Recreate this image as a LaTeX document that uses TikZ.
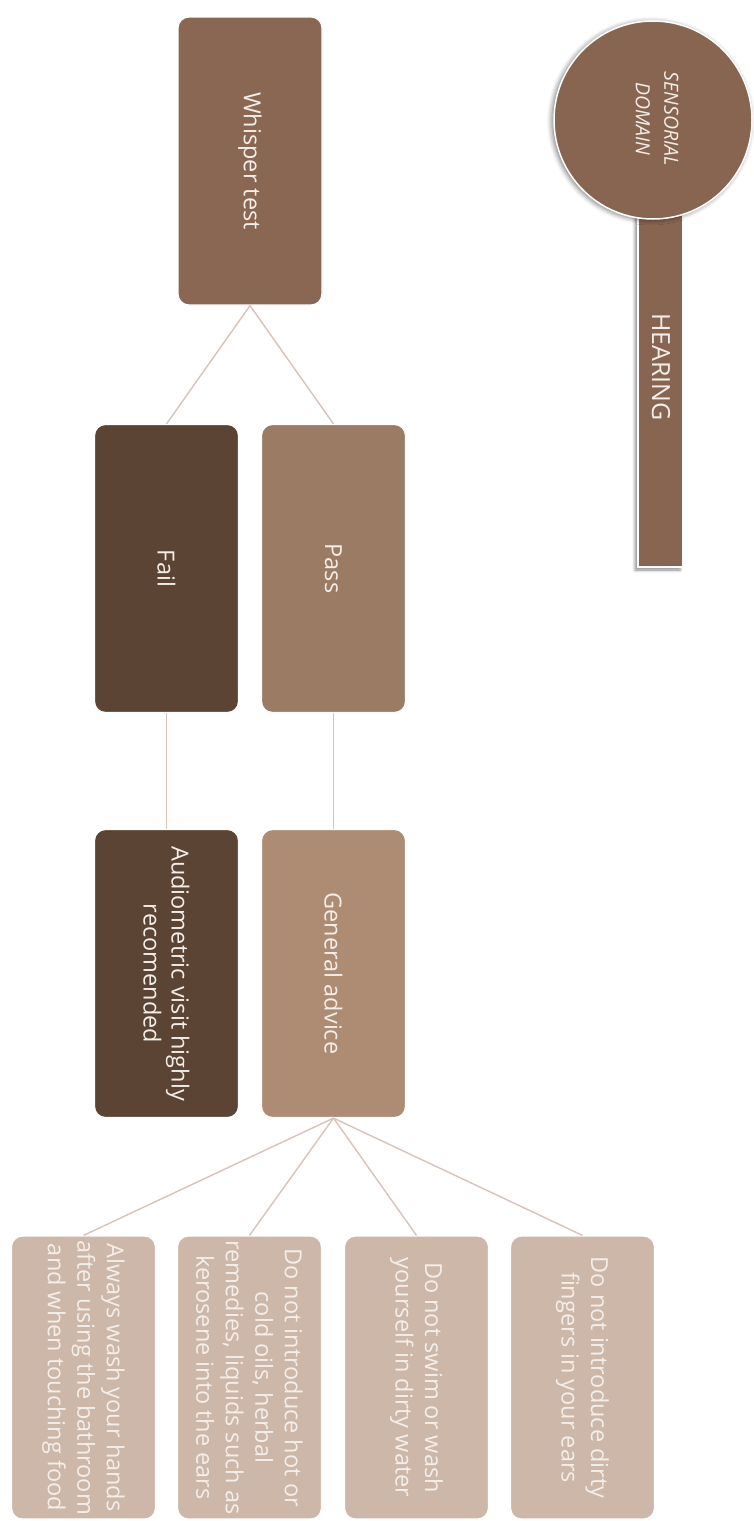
\documentclass[tikz,border=0pt]{standalone}
\usepackage{fontspec}
\setmainfont{Open Sans}
\usetikzlibrary{shadows.blur}

\definecolor{whispc}{HTML}{896752}
\definecolor{passc}{HTML}{9C7B64}
\definecolor{failc}{HTML}{5C4434}
\definecolor{genc}{HTML}{AE8B73}
\definecolor{leafc}{HTML}{CDB7A9}
\definecolor{domainc}{HTML}{886550}
\definecolor{linkc}{HTML}{D6C3B9}
\definecolor{boxtext}{HTML}{F4EEEA}

\begin{document}
\begin{tikzpicture}[x=1pt,y=-1pt,
  stepbox/.style={rectangle, rounded corners=11pt, draw=white, line width=1.2pt,
    rotate=-90, minimum width=288pt, minimum height=144pt, inner sep=4pt,
    align=center, text=boxtext, font=\fontsize{23.5}{28}\selectfont},
  leafbox/.style={stepbox, minimum width=283pt, fill=leafc,
    font=\fontsize{23.5}{29.5}\selectfont},
  vtext/.style={rotate=-90, text=boxtext, align=center, inner sep=0pt},
  link/.style={draw=linkc, line width=1.4pt}]

\useasboundingbox (0,0) rectangle (753,1521);

% domain marker: bar with circle on top
\node (bar) [rectangle, rotate=-90, minimum width=367pt, minimum height=45pt,
  fill=domainc, draw=white, line width=1.5pt,
  blur shadow={shadow xshift=-3pt, shadow yshift=-3pt, shadow opacity=45,
    shadow blur radius=3pt}] at (660.5,383.5) {};
\node (hearing) [vtext, font=\fontsize{25}{28}\selectfont] at (661,367) {HEARING};
\node (domain) [circle, minimum size=198pt, fill=domainc, draw=white,
  line width=1.5pt,
  blur shadow={shadow xshift=-2pt, shadow yshift=-1pt, shadow opacity=55,
    shadow blur radius=5pt}] at (653,120) {};
\node (domaintext) [vtext, font=\fontsize{19.5}{28.5}\itshape] at (657,119)
  {SENSORIAL\\DOMAIN};

% decision tree
\node (whisper) [stepbox, fill=whispc] at (250,161) {Whisper test};
\node (pass) [stepbox, fill=passc] at (333.5,568.5) {Pass};
\node (fail) [stepbox, fill=failc] at (166.5,568.5) {Fail};
\node (general) [stepbox, fill=genc] at (333.5,973.5) {General advice};
\node (audio) [stepbox, fill=failc] at (166.5,973.5)
  {Audiometric visit highly\\recomended};

\node (leafa) [leafbox] at (83.5,1377.5)
  {Always wash your hands\\after using the bathroom\\and when touching food};
\node (leafb) [leafbox] at (249.5,1377.5)
  {Do not introduce hot or\\cold oils, herbal\\remedies, liquids such as\\kerosene into the ears};
\node (leafc) [leafbox] at (416.5,1377.5)
  {Do not swim or wash\\yourself in dirty water};
\node (leafd) [leafbox] at (582.5,1377.5)
  {Do not introduce dirty\\fingers in your ears};

% connectors (east = lower edge, west = upper edge)
\draw[link] (whisper.east) -- (pass.west);
\draw[link] (whisper.east) -- (fail.west);
\draw[link] (pass.east) -- (general.west);
\draw[link] (fail.east) -- (audio.west);
\foreach \l in {leafa,leafb,leafc,leafd}
  \draw[link] (general.east) -- (\l.west);
\end{tikzpicture}
\end{document}
